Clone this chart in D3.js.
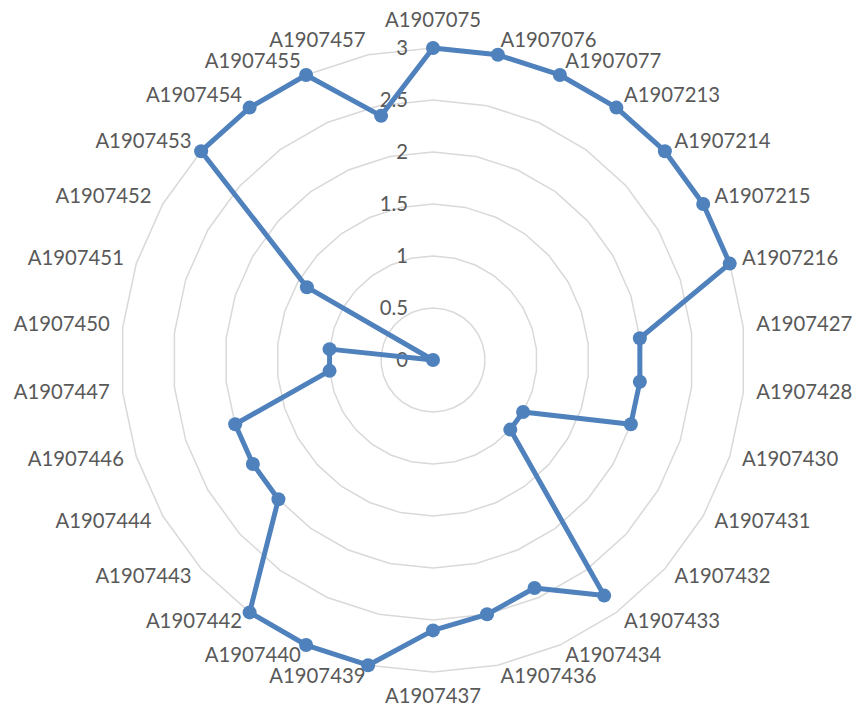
<!DOCTYPE html>
<html>
<head>
<meta charset="utf-8">
<script src="https://cdn.jsdelivr.net/npm/d3@7"></script>
<style>
  html, body { margin: 0; padding: 0; background: #ffffff; }
  svg { display: block; }
  text { font-family: Lato, "Open Sans", sans-serif; fill: #595959; }
</style>
</head>
<body>
<div id="chart"></div>
<script>
const categories = ["A1907075","A1907076","A1907077","A1907213","A1907214","A1907215","A1907216",
  "A1907427","A1907428","A1907430","A1907431","A1907432","A1907433","A1907434","A1907436",
  "A1907437","A1907439","A1907440","A1907442","A1907443","A1907444","A1907446","A1907447",
  "A1907450","A1907451","A1907452","A1907453","A1907454","A1907455","A1907457"];
const values = [3,3,3,3,3,3,3,
  2,2,2,1,1,2.8,2.4,2.5,
  2.6,3,3,3,2,2,2,1,
  1,0,1.4,3,3,3,2.4];
const ticks = [0,0.5,1,1.5,2,2.5,3];

const W = 855, H = 711;
const cx = 433, cy = 360, R = 312;
const FS = 20.3;
const svg = d3.select("#chart").append("svg").attr("width", W).attr("height", H);

const r = d3.scaleLinear().domain([0, 3]).range([0, R]);
const angle = d3.scaleBand().domain(categories).range([0, 2 * Math.PI]).align(0).paddingInner(0).paddingOuter(0);
const ang = c => angle(c);
const px = (c, v) => cx + r(v) * Math.sin(ang(c));
const py = (c, v) => cy - r(v) * Math.cos(ang(c));

const g = svg.append("g");

// grid polygons
ticks.filter(t => t > 0).forEach(t => {
  const pts = categories.map(c => [px(c, t), py(c, t)]);
  g.append("path")
    .attr("d", d3.line()(pts) + "Z")
    .attr("fill", "none")
    .attr("stroke", "#d9d9d9")
    .attr("stroke-width", 1.5);
});

// tick labels
g.selectAll(".tick").data(ticks).enter().append("text")
  .attr("x", 408)
  .attr("y", d => cy - r(d) + 2)
  .attr("text-anchor", "end")
  .attr("dominant-baseline", "middle")
  .attr("font-size", FS)
  .text(d => d);

// category labels
const LR = R + 13;
categories.forEach(c => {
  const a = ang(c);
  const s = Math.sin(a), co = Math.cos(a);
  let x = cx + LR * s, y = cy - LR * co;
  let anchor = "middle";
  if (s > 0.01) anchor = "start";
  else if (s < -0.01) anchor = "end";
  else y += (co > 0 ? -13 : 13);
  g.append("text")
    .attr("x", x).attr("y", y)
    .attr("text-anchor", anchor)
    .attr("dominant-baseline", "middle")
    .attr("font-size", FS)
    .text(c);
});

// series line
const pts = categories.map((c, i) => [px(c, values[i]), py(c, values[i])]);
g.append("path")
  .attr("d", d3.line()(pts) + "Z")
  .attr("fill", "none")
  .attr("stroke", "#4f81bd")
  .attr("stroke-width", 5)
  .attr("stroke-linejoin", "round");

g.selectAll(".pt").data(pts).enter().append("circle")
  .attr("cx", d => d[0]).attr("cy", d => d[1])
  .attr("r", 7)
  .attr("fill", "#4f81bd");
</script>
</body>
</html>
